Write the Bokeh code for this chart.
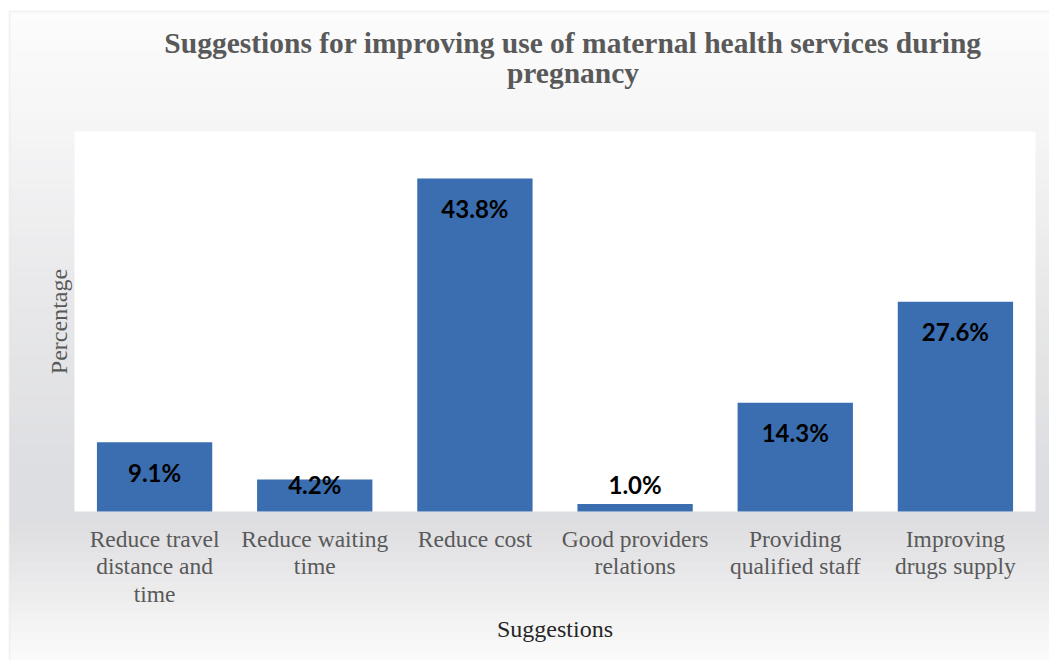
import math
from bokeh.plotting import figure
from bokeh.models import ColumnDataSource, BoxAnnotation, Range1d
from bokeh.core.properties import value
from bokeh.embed import file_html
from bokeh.resources import INLINE

categories = [
    "Reduce travel\ndistance and\ntime",
    "Reduce waiting\ntime",
    "Reduce cost",
    "Good providers\nrelations",
    "Providing\nqualified staff",
    "Improving\ndrugs supply",
]
percentages = [9.1, 4.2, 43.8, 1.0, 14.3, 27.6]
bar_labels = [f"{v:.1f}%" for v in percentages]
title_lines = ["Suggestions for improving use of maternal health services during", "pregnancy"]
x_title = "Suggestions"
y_title = "Percentage"
y_max = 50

# ---- layout: the frame covers the whole canvas; page pixels -> data units
W, H = 1049, 660
PLOT_L, PLOT_R, PLOT_T, PLOT_B = 74, 1035, 131, 511
XS = (PLOT_R - PLOT_L) / len(categories)      # px per category
YS = (PLOT_B - PLOT_T) / y_max                # px per percent
X0 = PLOT_L + XS / 2                           # page x of first category centre

def dx(px):
    return (px - X0) / XS

def dy(py):
    return (PLOT_B - py) / YS

p = figure(width=W, height=H, output_backend="svg", toolbar_location=None,
           x_axis_location=None, y_axis_location=None, min_border=0,
           x_range=Range1d(dx(0), dx(W)), y_range=Range1d(dy(H), dy(0)))
p.title = None
p.outline_line_color = None
p.grid.grid_line_color = None
p.background_fill_color = "white"
p.border_fill_color = "white"

# ---- chart-area background gradient
stops = [(11, (252, 252, 252)), (130, (245, 245, 246)), (300, (232, 232, 234)),
         (470, (221, 222, 225)), (520, (221, 222, 225)), (590, (236, 236, 237)),
         (H, (251, 251, 251))]
nb = 66
top_edge = 11
for i in range(nb):
    y0 = top_edge + (H - top_edge) * i / nb
    y1 = top_edge + (H - top_edge) * (i + 1) / nb
    ym = (y0 + y1) / 2
    col = stops[-1][1]
    for (a, ca), (b, cb) in zip(stops[:-1], stops[1:]):
        if a <= ym <= b:
            t = (ym - a) / (b - a)
            col = tuple(int(round(ca[k] + (cb[k] - ca[k]) * t)) for k in range(3))
            break
    p.add_layout(BoxAnnotation(left=dx(9), top=dy(y0), bottom=dy(y1 + 0.8),
                               fill_color="#%02x%02x%02x" % col, fill_alpha=1,
                               line_color=None, level="underlay"))
p.add_layout(BoxAnnotation(left=dx(9), top=dy(top_edge), right=dx(W + 10), bottom=dy(H + 10),
                           fill_color=None, line_color="#dadada", line_width=2, level="underlay"))
# white plot area
p.add_layout(BoxAnnotation(left=dx(PLOT_L), right=dx(PLOT_R), bottom=0, top=y_max,
                           fill_color="white", fill_alpha=1, line_color=None, level="underlay"))

# ---- bars and value labels
idx = list(range(len(categories)))
src = ColumnDataSource(dict(x=idx, val=percentages, lab=bar_labels, cat=categories,
                            ly=[max(v - 30 / YS, 27.5 / YS) for v in percentages]))
p.vbar(x="x", top="val", bottom=0, width=0.72, source=src,
       fill_color="#3a6eb0", line_color=None)
p.text(x="x", y="ly", text="lab", source=src,
       text_font=value("Lato"), text_font_style="bold", text_font_size="24px",
       text_color="#000000", text_align="center", text_baseline="middle")

# ---- category labels (x axis)
p.text(x="x", y=dy(525), text="cat", source=src,
       text_font=value("Liberation Serif"), text_font_size="23.5px",
       text_color="#595959", text_align="center", text_baseline="top",
       text_line_height=1.06)

# ---- axis titles
p.text(x=[dx((PLOT_L + PLOT_R) / 2)], y=[dy(628)], text=[x_title],
       text_font=value("Liberation Serif"), text_font_size="24px",
       text_color="#262626", text_align="center", text_baseline="middle")
p.text(x=[dx(58)], y=[dy((PLOT_T + PLOT_B) / 2)], text=[y_title], angle=math.pi / 2,
       text_font=value("Liberation Serif"), text_font_size="24px",
       text_color="#595959", text_align="center", text_baseline="middle")

# ---- chart title
p.text(x=[dx(572.5)] * 2, y=[dy(42), dy(72)], text=title_lines,
       text_font=value("Liberation Serif"), text_font_style="bold",
       text_font_size="29.5px", text_color="#595959",
       text_align="center", text_baseline="alphabetic")

open("out.html", "w").write(file_html(p, INLINE))
